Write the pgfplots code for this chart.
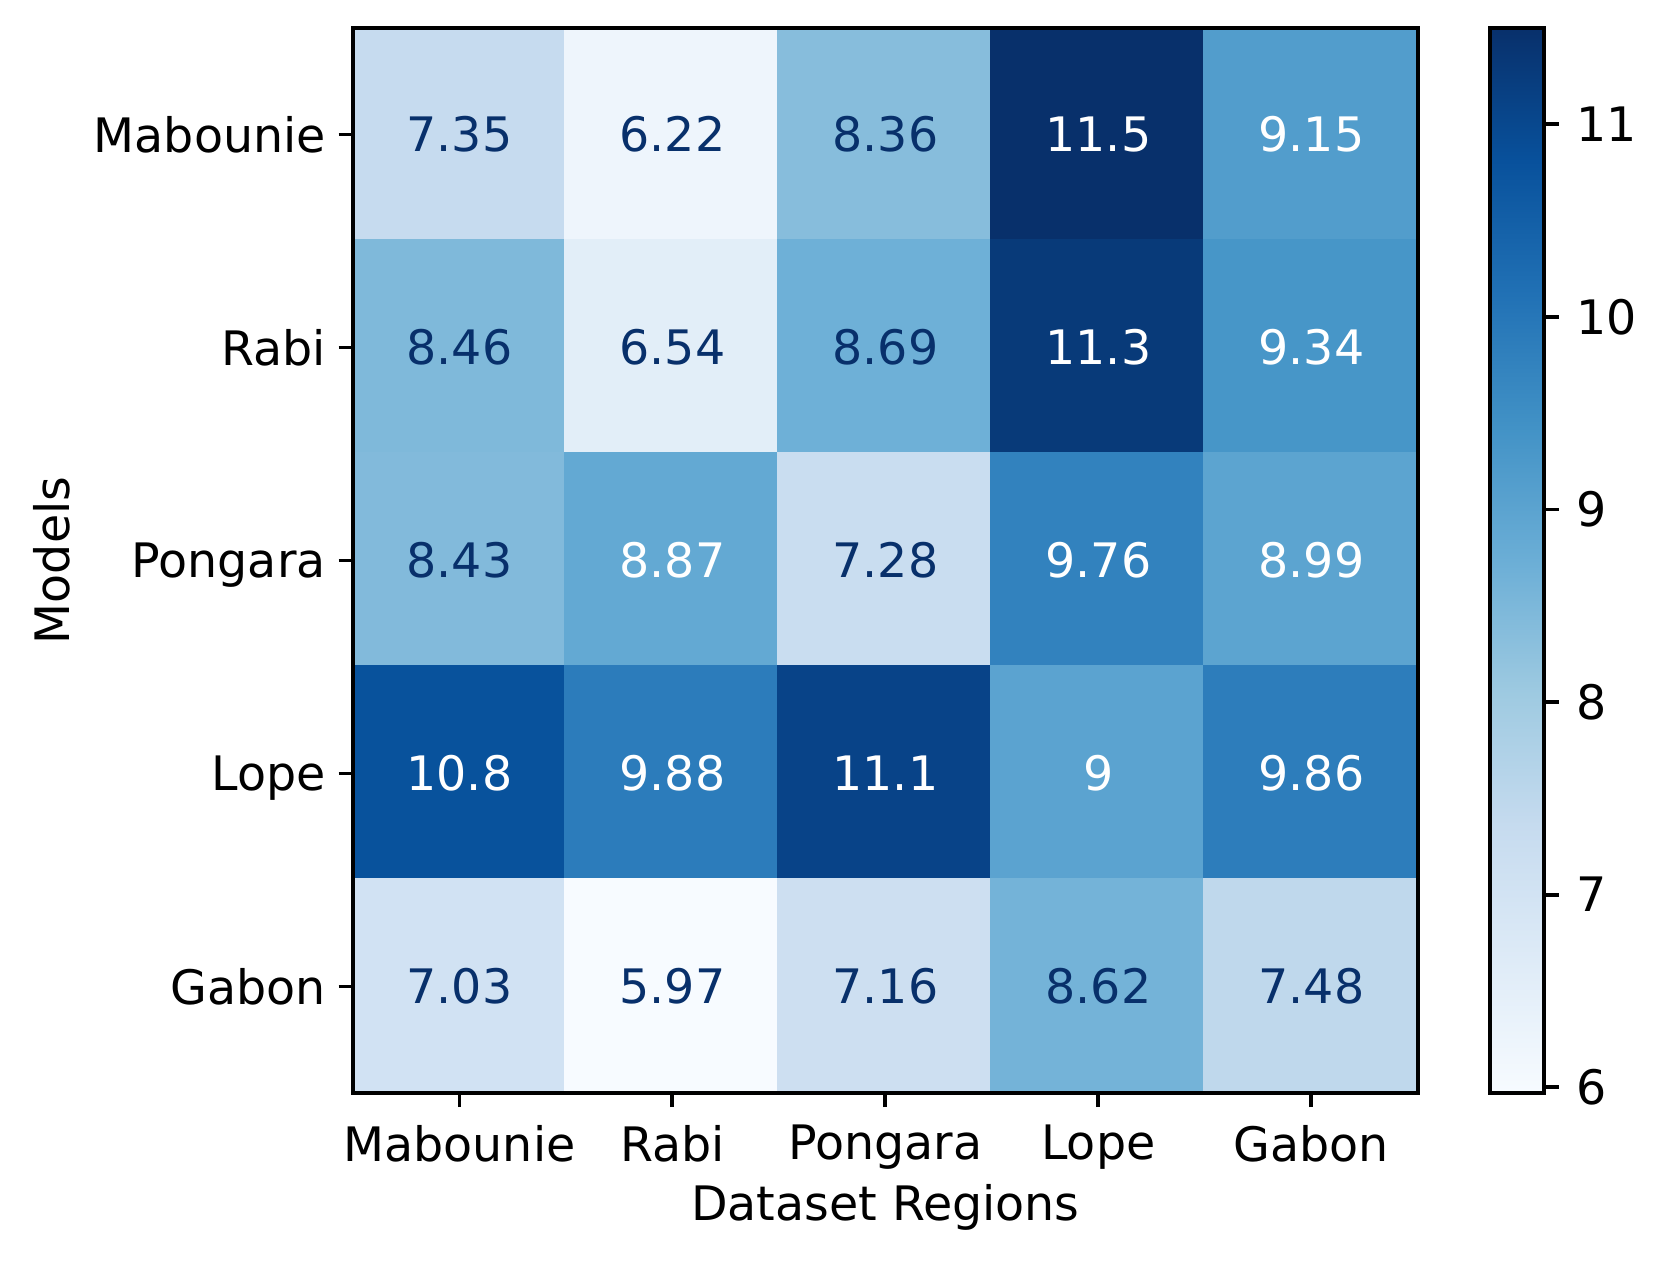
\documentclass[border=0pt]{standalone}
\usepackage{fontspec}
\setmainfont{DejaVu Sans}
\usepackage{pgfplots}
\pgfplotsset{compat=1.18}
\usepackage{pgfplotstable}

% heatmap values, row = model (top to bottom), col = dataset region
\pgfplotstableread{
x y c
0 0 7.35
1 0 6.22
2 0 8.36
3 0 11.5
4 0 9.15
0 1 8.46
1 1 6.54
2 1 8.69
3 1 11.3
4 1 9.34
0 2 8.43
1 2 8.87
2 2 7.28
3 2 9.76
4 2 8.99
0 3 10.8
1 3 9.88
2 3 11.1
3 3 9
4 3 9.86
0 4 7.03
1 4 5.97
2 4 7.16
3 4 8.62
4 4 7.48
}\cells

% cell labels in dark text (value below mid-range)
\pgfplotstableread{
x y lab
0 0 7.35
1 0 6.22
2 0 8.36
0 1 8.46
1 1 6.54
2 1 8.69
0 2 8.43
2 2 7.28
0 4 7.03
1 4 5.97
2 4 7.16
3 4 8.62
4 4 7.48
}\darklabels

% cell labels in white text
\pgfplotstableread{
x y lab
3 0 11.5
4 0 9.15
3 1 11.3
4 1 9.34
1 2 8.87
3 2 9.76
4 2 8.99
0 3 10.8
1 3 9.88
2 3 11.1
3 3 9
4 3 9.86
}\lightlabels

\definecolor{blues9}{RGB}{8,48,107}

\begin{document}
\begin{tikzpicture}
\useasboundingbox (-74.3pt,-35.2pt) rectangle (275.6pt,230.1pt);
\begin{axis}[
    at={(0pt,0pt)}, anchor=south west,
    width=224.2pt, height=224.2pt, scale only axis,
    xmin=-0.5, xmax=4.5, ymin=-0.5, ymax=4.5,
    y dir=reverse,
    enlargelimits=false,
    axis on top,
    xtick={0,...,4}, ytick={0,...,4},
    xticklabels={Mabounie,Rabi,Pongara,Lope,Gabon},
    yticklabels={Mabounie,Rabi,Pongara,Lope,Gabon},
    xtick pos=bottom, ytick pos=left,
    tick align=outside,
    major tick length=3pt,
    tick style={black, line width=0.8pt},
    line width=0.8pt,
    yticklabel shift=-1pt,
    yticklabel style={text depth=0pt},
    xlabel={Dataset Regions},
    ylabel={Models},
    xlabel shift=-4pt,
    ylabel shift=-2.2pt,
    colormap={mplblues}{rgb255=(247,251,255) rgb255=(222,235,247) rgb255=(198,219,239) rgb255=(158,202,225) rgb255=(107,174,214) rgb255=(66,146,198) rgb255=(33,113,181) rgb255=(8,81,156) rgb255=(8,48,107)},
    point meta min=5.97, point meta max=11.5,
    colorbar,
    colorbar style={
        at={(parent axis.north east)}, anchor=north west,
        xshift=6.7pt,
        width=11.4pt,
        ytick={6,...,11},
        ytick pos=right,
        tick align=outside,
        major tick length=3pt,
        tick style={black, line width=0.8pt},
        line width=0.8pt,
        /pgf/number format/assume math mode=true,
    },
    /pgf/number format/assume math mode=true,
]
\addplot[matrix plot*, mesh/cols=5, point meta=explicit] table[meta=c] \cells;
\addplot[draw=none, point meta=explicit symbolic,
    nodes near coords={\pgfplotspointmeta},
    nodes near coords style={anchor=center, text=blues9}]
    table[meta=lab] \darklabels;
\addplot[draw=none, point meta=explicit symbolic,
    nodes near coords={\pgfplotspointmeta},
    nodes near coords style={anchor=center, text=white}]
    table[meta=lab] \lightlabels;
\end{axis}
\end{tikzpicture}
\end{document}
